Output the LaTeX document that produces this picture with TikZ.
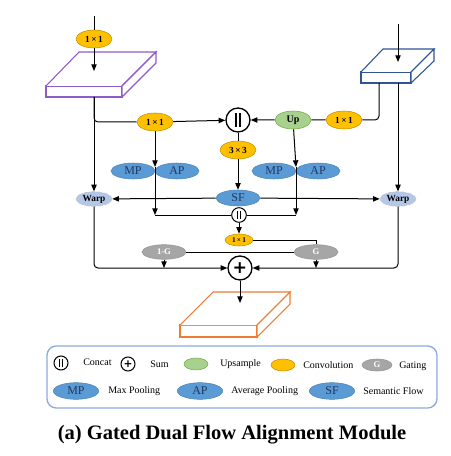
\documentclass[tikz,border=0pt]{standalone}
\usepackage{fontspec}
\setmainfont{Liberation Serif}[BoldFont={Liberation Serif Bold}]
\newfontfamily\opfont{DejaVu Sans}
\usepackage{xcolor}
\usepackage{tikz}
\usetikzlibrary{shapes.geometric, arrows.meta}

\definecolor{convfill}{HTML}{FFC000}
\definecolor{convline}{HTML}{BF9000}
\definecolor{upfill}{HTML}{A9D18E}
\definecolor{upline}{HTML}{70AD47}
\definecolor{poolfill}{HTML}{5B9BD5}
\definecolor{pooltext}{HTML}{1F3864}
\definecolor{gatefill}{HTML}{A6A6A6}
\definecolor{warpfill}{HTML}{B4C7E7}
\definecolor{boxpurple}{HTML}{8E5CC8}
\definecolor{boxnavy}{HTML}{2F5597}
\definecolor{boxorange}{HTML}{ED7D31}
\definecolor{legline}{HTML}{8FAADC}

\newcommand{\catbars}[2]{\rule{#1}{#2}\hspace{#1}\rule{#1}{#2}}

\tikzset{
    conv/.style={ellipse, draw=convline, fill=convfill, minimum width=27pt, minimum height=13.5pt, inner sep=0pt, font=\bfseries\fontsize{7}{7}\selectfont},
    convsmall/.style={conv, minimum width=21pt, minimum height=9pt, font=\bfseries\fontsize{5.5}{5.5}\selectfont},
    upsmp/.style={ellipse, draw=upline, fill=upfill, minimum width=27pt, minimum height=13.5pt, inner sep=0pt, font=\bfseries\fontsize{7.5}{7.5}\selectfont},
    pool/.style={ellipse, draw=poolfill!85!black, fill=poolfill, minimum width=33pt, minimum height=12pt, inner sep=0pt, text=pooltext, font=\fontsize{9}{9}\selectfont},
    gate/.style={ellipse, draw=gatefill!90!black, fill=gatefill, minimum width=33pt, minimum height=11pt, inner sep=0pt, text=white, font=\bfseries\fontsize{6.5}{6.5}\selectfont},
    warp/.style={ellipse, draw=gray!45, densely dashed, fill=warpfill, minimum width=27pt, minimum height=11pt, inner sep=0pt, font=\bfseries\fontsize{7}{7}\selectfont},
    cat/.style={circle, draw, line width=1pt, fill=white, minimum size=18pt, inner sep=0pt},
    catsmall/.style={cat, line width=0.75pt, minimum size=11pt},
    sumop/.style={circle, draw, line width=1pt, fill=white, minimum size=18pt, inner sep=0pt, font=\opfont\bfseries\fontsize{13}{13}\selectfont},
    legtext/.style={anchor=west, inner sep=0pt, font=\fontsize{7.5}{7.5}\selectfont},
    flow/.style={-{Triangle[length=5pt,width=4pt]}, line width=0.75pt},
    link/.style={line width=0.75pt}
}

\begin{document}
\begin{tikzpicture}[x=0.75pt, y=-0.75pt]
        \useasboundingbox (0,0) rectangle (450,456);

        % feature maps
        \draw[boxpurple, fill=white, line width=0.8pt] (46,86) rectangle (122,97);
        \draw[boxpurple, fill=white, line width=0.8pt] (46,86) -- (79,52) -- (156,52) -- (122,86);
        \draw[boxpurple, fill=white, line width=0.8pt] (156,52) -- (156,63) -- (122,97) -- (122,86) -- cycle;
        \draw[boxnavy, fill=white, line width=0.8pt] (361,72) rectangle (411,83);
        \draw[boxnavy, fill=white, line width=0.8pt] (361,72) -- (383,49) -- (434,49) -- (411,72);
        \draw[boxnavy, fill=white, line width=0.8pt] (434,49) -- (434,61) -- (411,83) -- (411,72) -- cycle;
        \draw[boxorange, fill=white, line width=0.8pt] (180,325) rectangle (257,337);
        \draw[boxorange, fill=white, line width=0.8pt] (180,325) -- (213,292) -- (290,292) -- (257,325);
        \draw[boxorange, fill=white, line width=0.8pt] (290,292) -- (290,304) -- (257,337) -- (257,325) -- cycle;

        \coordinate (inL) at (94,16);
        \coordinate (topL) at (94,71);
        \coordinate (botL) at (94,97);
        \coordinate (inR) at (398,24);
        \coordinate (topR) at (398,62);
        \coordinate (botR) at (379,83);
        \coordinate (botRW) at (398,83);
        \coordinate (jL) at (155,167);
        \coordinate (jR) at (296,167);
        \coordinate (cornL) at (155,215);
        \coordinate (cornR) at (296,215);
        \coordinate (topO) at (240,303);

        % operators
        \node[conv] (convIn) at (94,39) {1\,×\,1};
        \node[conv] (convL) at (155,122) {1\,×\,1};
        \node[conv] (convR) at (344,120) {1\,×\,1};
        \node[upsmp] (upR) at (293,120) {Up};
        \node[cat] (catTop) at (238,120) {\catbars{1.6pt}{10.5pt}};
        \node[conv] (convS) at (238,150) {3\,×\,3};
        \node[pool] (mpL) at (133,171) {MP};
        \node[pool] (apL) at (177,171) {AP};
        \node[pool] (mpR) at (274,171) {MP};
        \node[pool] (apR) at (318,171) {AP};
        \node[pool] (sf) at (238,198) {SF};
        \node[warp] (warpL) at (94,199) {Warp};
        \node[warp] (warpR) at (398,199) {Warp};
        \node[catsmall] (catMid) at (239,215) {\catbars{1.1pt}{6.5pt}};
        \node[convsmall] (convG) at (239,240) {1\,×\,1};
        \node[gate] (gInv) at (164,252) {1-G};
        \node[gate] (gG) at (316,252) {G};
        \node[sumop] (sum) at (240,268) {+};

        % connectors
        \draw[link] (inL) -- (convIn);
        \draw[flow] (convIn) -- (topL);
        \draw[flow] (inR) -- (topR);
        \draw[flow] (botL) -- (warpL);
        \draw[flow] (botRW) -- (warpR);
        \draw[flow, rounded corners=3pt] (botL) |- (convL) -- (catTop);
        \draw[flow, rounded corners=3pt] (botR) |- (convR) -- (upR) -- (catTop);
        \draw[link] (catTop) -- (convS);
        \draw[flow] (convS) -- (sf);
        \draw[flow] (convL) -- (jL);
        \draw[flow] (upR) -- (jR);
        \draw[flow] (jL) -- (cornL);
        \draw[flow] (jR) -- (cornR);
        \draw[link] (cornL) -- (catMid) -- (cornR);
        \draw[flow] (sf) -- (warpL);
        \draw[flow] (sf) -- (warpR);
        \draw[flow] (catMid) -- (convG);
        \draw[link] (convG) -| (gG);
        \draw[link] (gInv) -- (gG);
        \draw[flow, rounded corners=3pt] (warpL) |- (sum);
        \draw[flow, rounded corners=3pt] (warpR) |- (sum);
        \draw[flow] (gInv) -- (gInv |- sum);
        \draw[flow] (gG) -- (gG |- sum);
        \draw[flow] (sum) -- (topO);

        % legend
        \draw[legline, line width=1pt, rounded corners=7pt] (47,346) rectangle (437,408);
        \node[catsmall, minimum size=10.5pt] (lgCat) at (61,363) {\catbars{1.1pt}{6pt}};
        \node[legtext] (lgCatTxt) at (83,362) {Concat};
        \node[sumop, line width=0.75pt, minimum size=10.5pt, font=\opfont\bfseries\fontsize{8}{8}\selectfont] (lgSum) at (128,364) {+};
        \node[legtext] (lgSumTxt) at (150,364) {Sum};
        \node[upsmp, minimum width=18pt, minimum height=9pt] (lgUp) at (196,364) {};
        \node[legtext] (lgUpTxt) at (220,364) {Upsample};
        \node[conv, minimum width=18pt, minimum height=9pt] (lgConv) at (283,365) {};
        \node[legtext] (lgConvTxt) at (303,365) {Convolution};
        \node[gate, minimum width=22.5pt, minimum height=9pt] (lgGate) at (377,365) {G};
        \node[legtext] (lgGateTxt) at (399,366) {Gating};
        \node[pool, minimum width=34pt, minimum height=12.5pt] (lgMP) at (76,391) {MP};
        \node[legtext] (lgMPTxt) at (108,391) {Max Pooling};
        \node[pool, minimum width=34pt, minimum height=12.5pt] (lgAP) at (200,391) {AP};
        \node[legtext] (lgAPTxt) at (231,391) {Average Pooling};
        \node[pool, minimum width=34pt, minimum height=12.5pt] (lgSF) at (332,391) {SF};
        \node[legtext] (lgSFTxt) at (363,391) {Semantic Flow};

        % caption
        \node[font=\bfseries\fontsize{15.4}{16}\selectfont, inner sep=0pt] (caption) at (232,435) {(a) Gated Dual Flow Alignment Module};
    \end{tikzpicture}
\end{document}
